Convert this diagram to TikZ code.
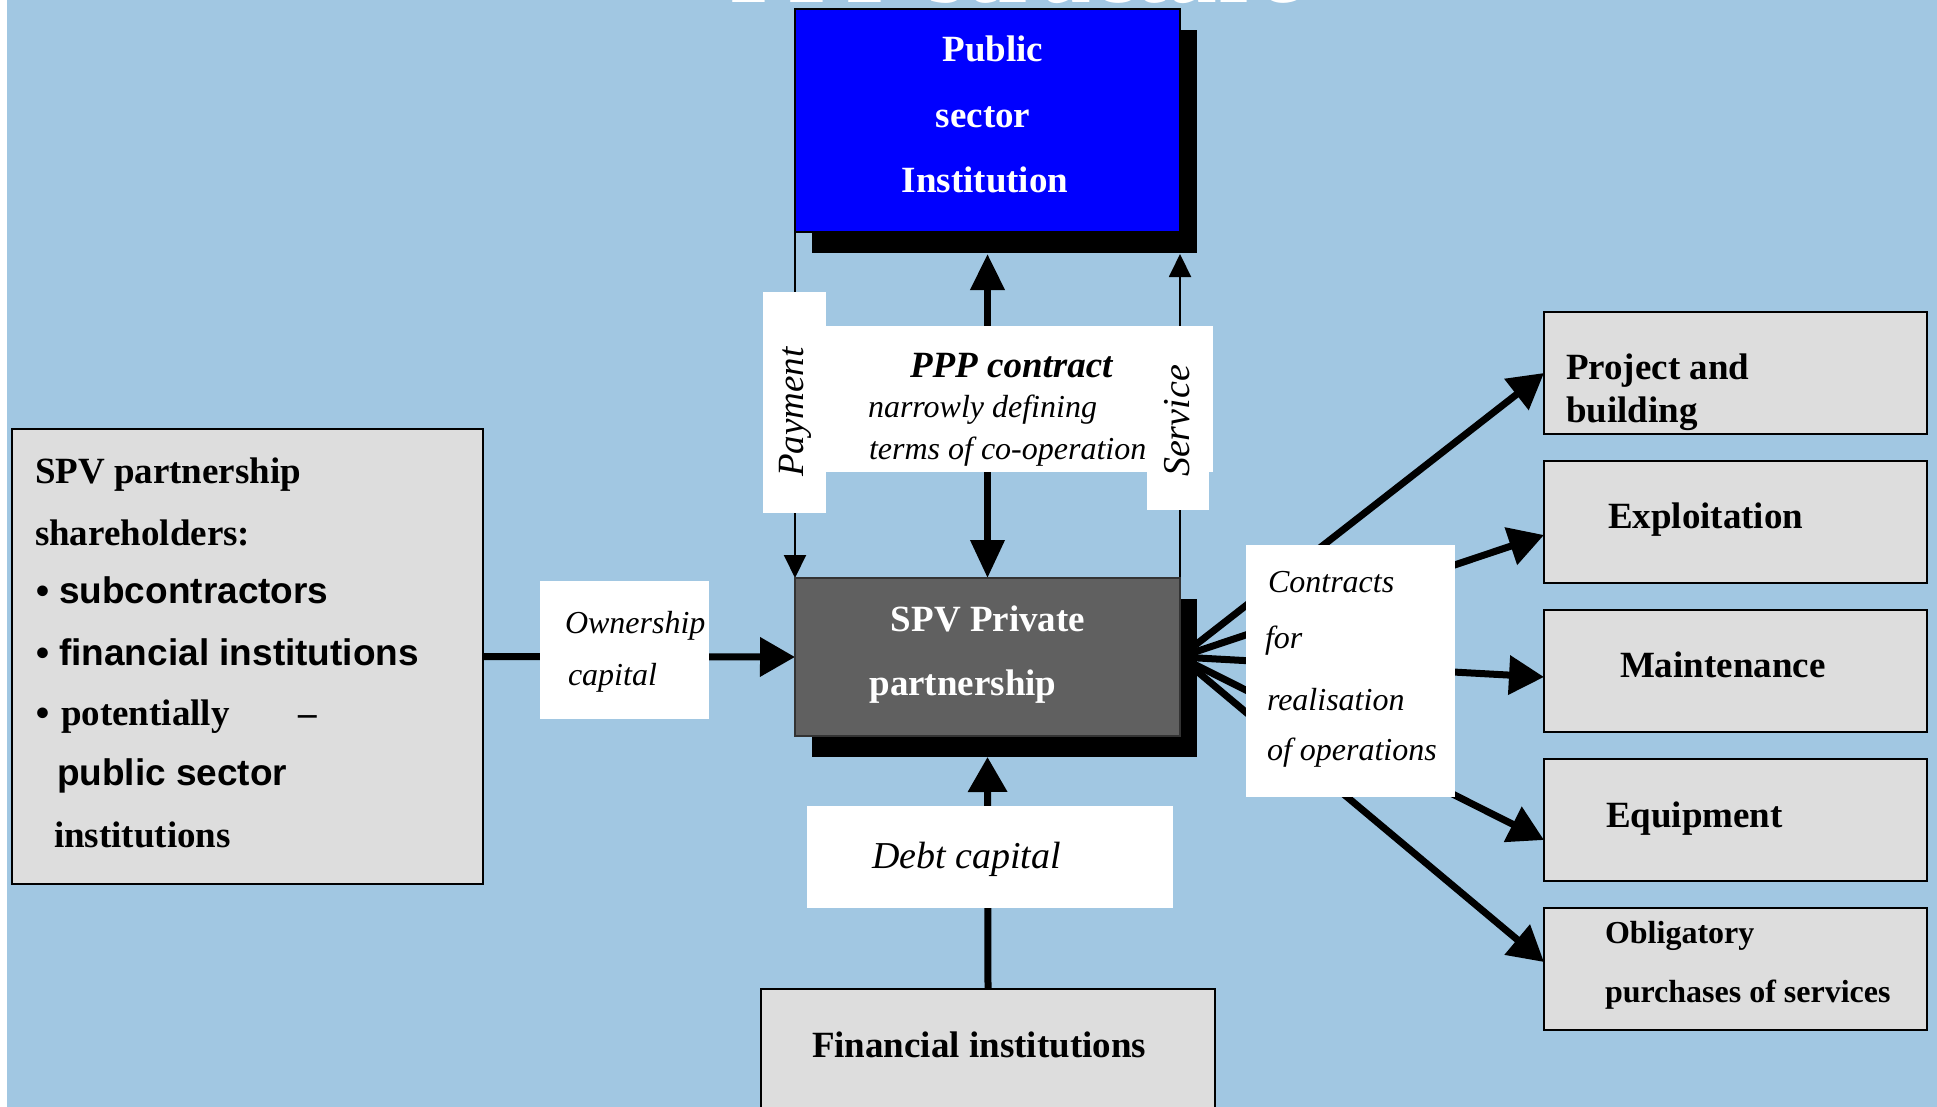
\documentclass[tikz,border=0pt]{standalone}
\usepackage{fontspec}
\setmainfont{Liberation Serif}
\newfontfamily\arialf{Liberation Sans}
\usetikzlibrary{arrows.meta,shadows}
\definecolor{bgblue}{RGB}{161,199,226}
\definecolor{boxgray}{RGB}{221,221,221}
\definecolor{spvgray}{RGB}{96,96,96}
\pgfdeclarelayer{backdrop}
\pgfdeclarelayer{lines}
\pgfsetlayers{backdrop,lines,main}
\newcommand\fsz[1]{\fontsize{#1}{#1}\selectfont}
\tikzset{
 box/.style={draw=black, line width=2.5pt, fill=boxgray, anchor=north west, inner sep=0pt, outer sep=0pt},
 whitebox/.style={fill=white, anchor=north west, inner sep=0pt, outer sep=0pt},
 txt/.style={anchor=base west, inner sep=0pt, outer sep=0pt},
 ctxt/.style={anchor=base, inner sep=0pt, outer sep=0pt},
 bigarrow/.style={line width=7pt, -{Triangle[length=35pt,width=38pt]}},
 thinarrow/.style={line width=2pt, -{Triangle[length=23pt,width=22pt]}},
 dblarrow/.style={line width=7pt, {Triangle[length=36pt,width=33pt]}-{Triangle[length=38pt,width=33pt]}},
 shadowed/.style={drop shadow={shadow xshift=17pt, shadow yshift=-21pt, fill=black, opacity=1}},
}
\begin{document}
\begin{tikzpicture}[x=1pt,y=-1pt]
\useasboundingbox (0,0) rectangle (1937,1107);
\begin{pgfonlayer}{backdrop}
\fill[white] (0,0) rectangle (1937,1107);
\fill[bgblue] (7,0) rectangle (1937,1107);
\end{pgfonlayer}

% title (cut off at the top, as in the reference)
\node[ctxt, text=white, font=\fsz{95}\bfseries] (title) at (1016,3) {PPP structure};

% main boxes
\node[shadowed, draw=black, line width=2.5pt, fill=blue, anchor=north west, inner sep=0pt, outer sep=0pt,
      minimum width=385pt, minimum height=223pt] (pub) at (795,9) {};
\node[shadowed, draw=black!80, line width=2pt, fill=spvgray, anchor=north west, inner sep=0pt, outer sep=0pt,
      minimum width=385pt, minimum height=158pt] (spv) at (795,578) {};
\node[box, minimum width=471pt, minimum height=455pt] (sh) at (12,429) {};
\node[box, minimum width=454pt, minimum height=200pt] (fin) at (761,989) {};
\node[box, minimum width=383pt, minimum height=122pt] (proj) at (1544,312) {};
\node[box, minimum width=383pt, minimum height=122pt] (expl) at (1544,461) {};
\node[box, minimum width=383pt, minimum height=122pt] (maint) at (1544,610) {};
\node[box, minimum width=383pt, minimum height=122pt] (equip) at (1544,759) {};
\node[box, minimum width=383pt, minimum height=122pt] (oblig) at (1544,908) {};

% connectors
\begin{pgfonlayer}{lines}
\draw[thinarrow] (pub.south west) -- (spv.north west);
\draw[thinarrow] (spv.north east) -- ([yshift=-22pt]pub.south east);
\draw[dblarrow] ([yshift=-22pt]pub.south) -- (spv.north);
\draw[bigarrow] (sh.east) -- (spv.west);
\draw[bigarrow] (fin.north) -- ([yshift=-21pt]spv.south);
\draw[bigarrow] (spv.east) -- (proj.west);
\draw[bigarrow] (spv.east) -- ([yshift=-13pt]expl.west);
\draw[bigarrow] (spv.east) -- ([yshift=-6pt]maint.west);
\draw[bigarrow] (spv.east) -- ([yshift=-20pt]equip.west);
\draw[bigarrow] (spv.east) -- ([yshift=7pt]oblig.west);
\end{pgfonlayer}

% white label boxes
\node[whitebox, minimum width=450pt, minimum height=146pt] (pppmain) at (763,326) {};
\node[whitebox, minimum width=63pt, minimum height=221pt] (paytab) at (763,292) {};
\node[whitebox, minimum width=62pt, minimum height=184pt] (servtab) at (1147,326) {};
\node[whitebox, minimum width=169pt, minimum height=138pt] (own) at (540,581) {};
\node[whitebox, minimum width=366pt, minimum height=102pt] (debt) at (807,806) {};
\node[whitebox, minimum width=209pt, minimum height=252pt] (contr) at (1246,545) {};

% texts: public sector institution
\node[ctxt, text=white, font=\fsz{37}\bfseries] (pub1) at (993,62) {Public};
\node[ctxt, text=white, font=\fsz{37}\bfseries] (pub2) at (983,128) {sector};
\node[ctxt, text=white, font=\fsz{37}\bfseries] (pub3) at (985,193) {Institution};
% SPV private partnership
\node[ctxt, text=white, font=\fsz{37}\bfseries] (spv1) at (988,631) {SPV Private};
\node[ctxt, text=white, font=\fsz{37}\bfseries] (spv2) at (963,695) {partnership};
% shareholders box
\node[txt, font=\fsz{37}\bfseries] (sh1) at (35,483) {SPV partnership};
\node[txt, font=\fsz{37}\bfseries] (sh2) at (35,545) {shareholders:};
\node[txt, font=\fsz{37}\arialf\bfseries] (sh3) at (36,603) {\textbullet\ subcontractors};
\node[txt, font=\fsz{37}\arialf\bfseries] (sh4) at (36,665) {\textbullet\ financial institutions};
\node[txt, font=\fsz{37}\arialf\bfseries] (sh5b) at (36,725) {\textbullet};
\node[txt, font=\fsz{37}\bfseries] (sh5) at (61,725) {potentially};
\node[txt, font=\fsz{37}\bfseries] (sh5d) at (298,725) {–};
\node[txt, font=\fsz{37}\arialf\bfseries] (sh6) at (57,785) {public sector};
\node[txt, font=\fsz{37}\bfseries] (sh7) at (54,847) {institutions};
% financial institutions
\node[txt, font=\fsz{37}\bfseries] (fin1) at (812,1057) {Financial institutions};
% right boxes
\node[txt, font=\fsz{37}\bfseries] (proj1) at (1566,379) {Project and};
\node[txt, font=\fsz{37}\bfseries] (proj2) at (1566,422) {building};
\node[txt, font=\fsz{37}\bfseries] (expl1) at (1608,528) {Exploitation};
\node[txt, font=\fsz{37}\bfseries] (maint1) at (1620,677) {Maintenance};
\node[txt, font=\fsz{37}\bfseries] (equip1) at (1606,827) {Equipment};
\node[txt, font=\fsz{32}\bfseries] (oblig1) at (1605,943) {Obligatory};
\node[txt, font=\fsz{32}\bfseries] (oblig2) at (1605,1002) {purchases of services};
% labels
\node[txt, font=\fsz{37}\bfseries\itshape] (ppp1) at (910,377) {PPP contract};
\node[txt, font=\fsz{32}\itshape] (ppp2) at (868,417) {narrowly defining};
\node[txt, font=\fsz{32}\itshape] (ppp3) at (869,459) {terms of co-operation};
\node[ctxt, rotate=90, font=\fsz{37}\itshape] (paytxt) at (803,412) {Payment};
\node[ctxt, rotate=90, font=\fsz{38}\itshape] (servtxt) at (1189,421) {Service};
\node[txt, font=\fsz{32}\itshape] (own1) at (565,633) {Ownership};
\node[txt, font=\fsz{32}\itshape] (own2) at (568,685) {capital};
\node[txt, font=\fsz{38}\itshape] (debt1) at (872,868) {Debt capital};
\node[txt, font=\fsz{32}\itshape] (contr1) at (1268,592) {Contracts};
\node[txt, font=\fsz{32}\itshape] (contr2) at (1265,648) {for};
\node[txt, font=\fsz{32}\itshape] (contr3) at (1267,710) {realisation};
\node[txt, font=\fsz{32}\itshape] (contr4) at (1267,760) {of operations};
\end{tikzpicture}
\end{document}
